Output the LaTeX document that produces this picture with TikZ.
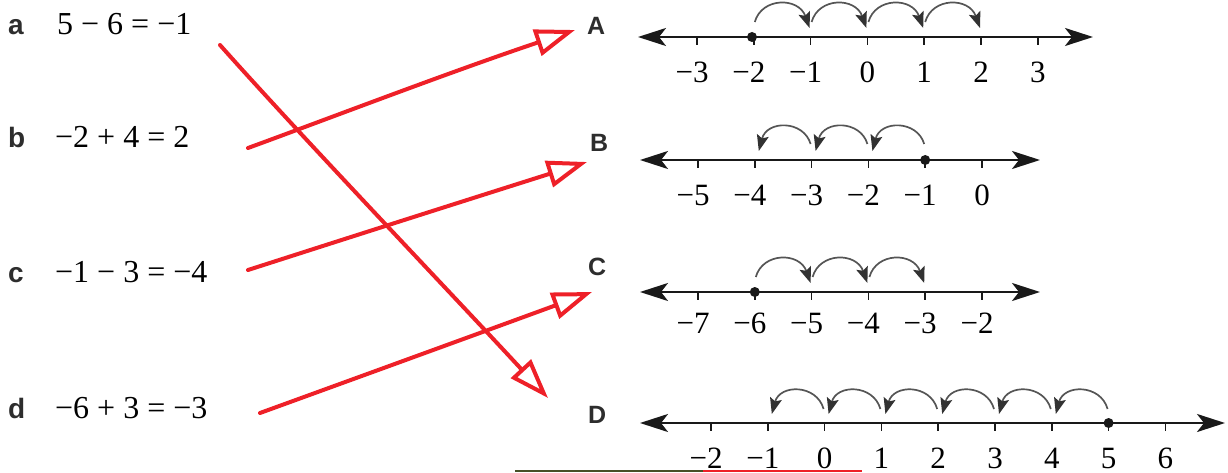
\documentclass[tikz,border=0pt]{standalone}
\usepackage{fontspec}
\setmainfont{Liberation Serif}
\newfontfamily\serf{Liberation Serif}
\newfontfamily\lblfont{Liberation Sans}
\usetikzlibrary{arrows.meta}
\definecolor{penred}{RGB}{238,32,40}
\definecolor{axisc}{RGB}{25,25,25}
\definecolor{hopc}{RGB}{85,85,85}
\definecolor{hoptip}{RGB}{50,50,50}
\definecolor{lettc}{RGB}{45,45,45}
\definecolor{scanline}{RGB}{70,80,40}
\begin{document}
\begin{tikzpicture}[x=1pt,y=-1pt,
 eq/.style={anchor=base west, inner sep=0pt, font=\serf\fontsize{32}{38}\selectfont},
 lowlet/.style={anchor=base west, inner sep=0pt, text=lettc, font=\lblfont\bfseries\fontsize{28}{32}\selectfont},
 caplet/.style={anchor=base west, inner sep=0pt, text=lettc, font=\lblfont\bfseries\fontsize{25}{30}\selectfont},
 numlab/.style={anchor=base, inner sep=0pt, font=\serf\fontsize{31}{36}\selectfont},
 axis/.style={draw=axisc, line width=2.4pt, {Stealth[length=28pt,width=18pt,inset=7pt]}-{Stealth[length=28pt,width=18pt,inset=7pt]}},
 tickmark/.style={draw=axisc, line width=1.5pt},
 hop/.style={draw=hopc, line width=1.7pt, -{Stealth[length=16pt,width=12pt,inset=3pt,color=hoptip]}},
 pen/.style={draw=penred, line width=4pt, line cap=round, line join=round, -{Triangle[open,length=40pt,width=27pt]}},
 ]
\useasboundingbox (0,0) rectangle (1228,473);

% left column: equations
\node[lowlet] (la) at (8,35) {a};
\node[lowlet] (lb) at (8,148) {b};
\node[lowlet] (lc) at (8,282) {c};
\node[lowlet] (ld) at (8,418) {d};
\node[eq] (ea) at (57,35) {5 − 6 = −1};
\node[eq] (eb) at (55,148) {−2 + 4 = 2};
\node[eq] (ec) at (55,282) {−1 − 3 = −4};
\node[eq] (ed) at (55,418) {−6 + 3 = −3};

% right column: letters
\node[caplet] (LA) at (587,35) {A};
\node[caplet] (LB) at (590,152) {B};
\node[caplet] (LC) at (588,275) {C};
\node[caplet] (LD) at (588,423) {D};

% number line A
\draw[axis] (638,37) -- (1093,37);
\foreach \i/\v/\s in {0/−3/-5,1/−2/-5,2/−1/-5,3/0/0,4/1/0,5/2/0,6/3/0}{
  \draw[tickmark] ({697+56.8*\i},37) -- ({697+56.8*\i},45);
  \node[numlab,xshift=\s pt] (nA\i) at ({697+56.8*\i},83) {\v};
}
\fill[axisc] (752,37) circle (5pt);
\foreach \i in {1,...,4}{
  \draw[hop] ({697+56.8*\i+1},22) .. controls ({697+56.8*\i+8},-3) and ({697+56.8*(\i+1)-12},-3) .. ({697+56.8*(\i+1)-1},28);
}

% number line B
\draw[axis] (640,160) -- (1040,160);
\foreach \i/\v/\s in {0/−5/-5,1/−4/-5,2/−3/-5,3/−2/-5,4/−1/-5,5/0/0}{
  \draw[tickmark] ({698+56.8*\i},160) -- ({698+56.8*\i},168);
  \node[numlab,xshift=\s pt] (nB\i) at ({698+56.8*\i},205) {\v};
}
\fill[axisc] (925.2,160) circle (5pt);
\foreach \i in {4,3,2}{
  \draw[hop] ({698+56.8*\i-1},144) .. controls ({698+56.8*\i-8},120) and ({698+56.8*(\i-1)+12},120) .. ({698+56.8*(\i-1)+4},151);
}

% number line C
\draw[axis] (640,292) -- (1040,292);
\foreach \i/\v/\s in {0/−7/-5,1/−6/-5,2/−5/-5,3/−4/-5,4/−3/-5,5/−2/-5}{
  \draw[tickmark] ({698+56.8*\i},292) -- ({698+56.8*\i},300);
  \node[numlab,xshift=\s pt] (nC\i) at ({698+56.8*\i},333) {\v};
}
\fill[axisc] (754.8,292) circle (5pt);
\foreach \i in {1,...,3}{
  \draw[hop] ({698+56.8*\i+1},277) .. controls ({698+56.8*\i+8},252) and ({698+56.8*(\i+1)-12},252) .. ({698+56.8*(\i+1)-1},283);
}

% number line D
\draw[axis] (640,423) -- (1225,423);
\foreach \i/\v/\s in {0/−2/-5,1/−1/-5,2/0/0,3/1/0,4/2/0,5/3/0,6/4/0,7/5/0,8/6/0}{
  \draw[tickmark] ({711+56.8*\i},423) -- ({711+56.8*\i},431);
  \node[numlab,xshift=\s pt] (nD\i) at ({711+56.8*\i},468) {\v};
}
\fill[axisc] (1108.6,423) circle (5pt);
\foreach \i in {7,6,...,2}{
  \draw[hop] ({711+56.8*\i-1},409) .. controls ({711+56.8*\i-8},384) and ({711+56.8*(\i-1)+12},384) .. ({711+56.8*(\i-1)+4},414);
}

% red matching arrows
\coordinate (sa) at (220,45);
\coordinate (sb) at (248,148);
\coordinate (sc) at (248,270);
\coordinate (sd) at (260,413);
\coordinate (tA) at (575,30);
\coordinate (tB) at (587,162);
\coordinate (tC) at (592,292);
\coordinate (tD) at (548,398);
\draw[pen] (sa) .. controls (300,135) and (450,292) .. (tD);
\draw[pen] (sb) .. controls (330,118) and (450,72) .. (tA);
\draw[pen] (sc) .. controls (360,234) and (470,199) .. (tB);
\draw[pen] (sd) .. controls (370,373) and (480,333) .. (tC);

% scan artefact at bottom edge
\draw[draw=scanline, line width=2pt] (515,471) -- (703,471);
\draw[draw=penred, line width=2pt] (703,471) -- (862,471);
\end{tikzpicture}
\end{document}
